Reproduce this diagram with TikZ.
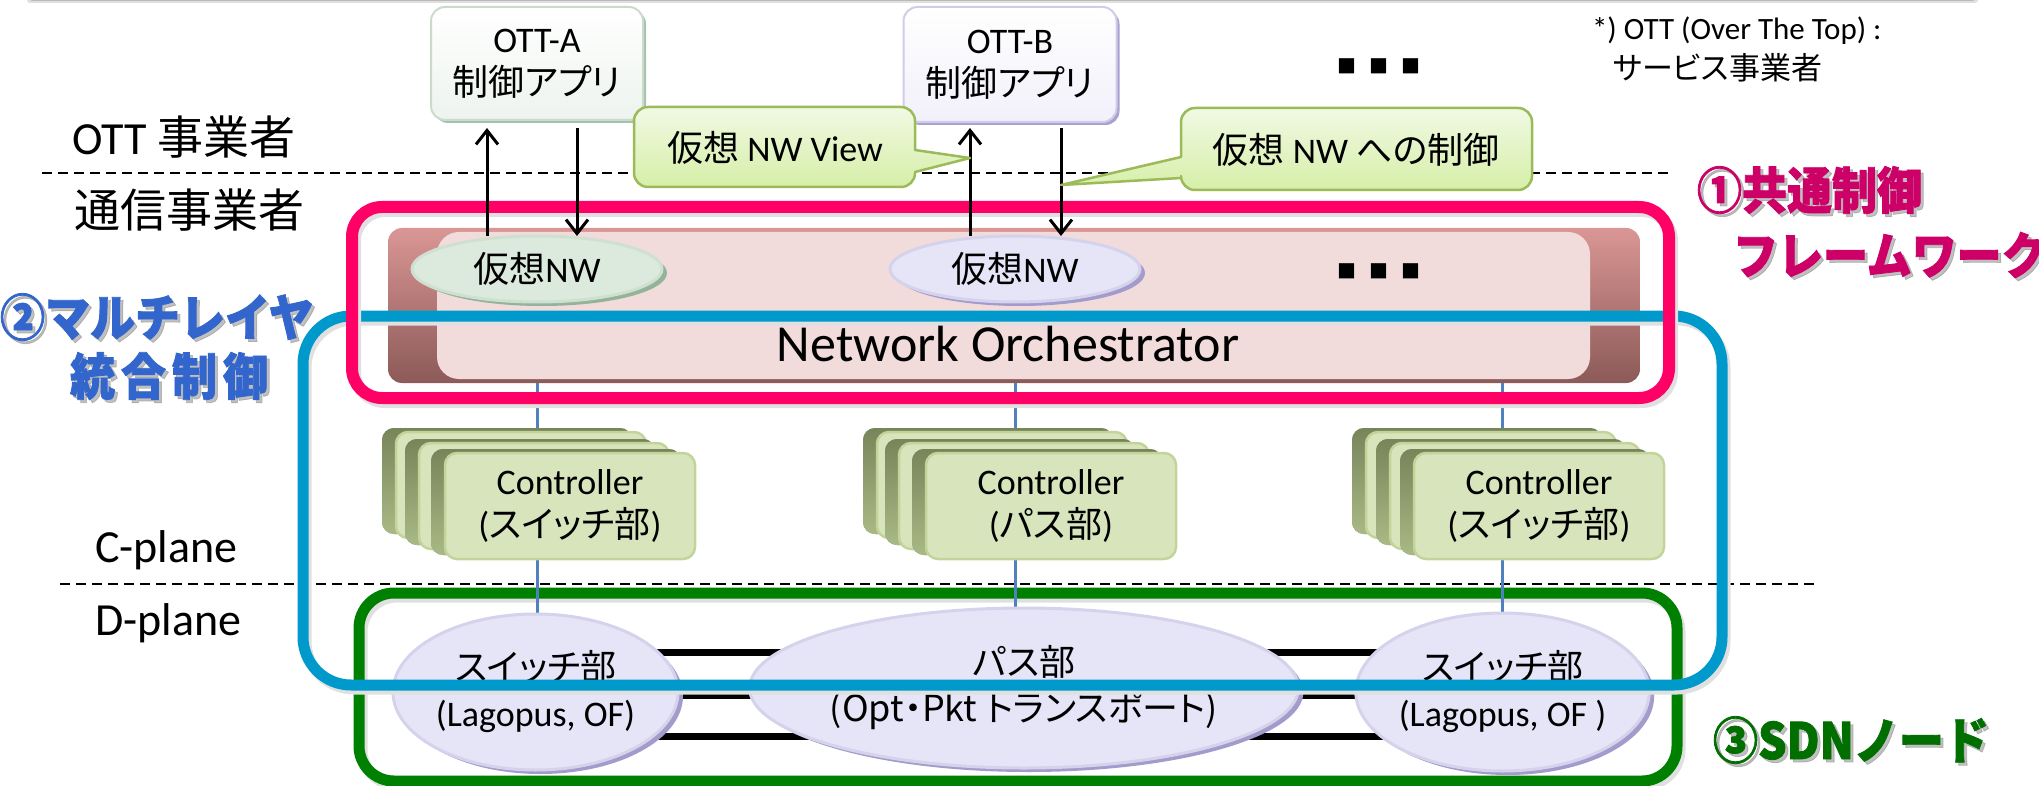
\documentclass[tikz,border=0pt]{standalone}
\usepackage{fontspec}
\setmainfont{Carlito}
\newfontfamily\jp{Noto Sans CJK JP}[RawFeature=+palt]
\newfontfamily\jpb{Noto Sans CJK JP}[FakeStretch=0.9,FakeBold=1.6]
\newfontfamily\jpbw{Noto Sans CJK JP}[FakeStretch=0.9,FakeBold=1.6,LetterSpace=12]
\usetikzlibrary{arrows.meta,shapes.geometric,shadows}
\newcommand\fsz[2]{\fontsize{#1}{#2}\selectfont}

\definecolor{pinkc}{HTML}{FF0066}
\definecolor{bluec}{HTML}{0099CC}
\definecolor{greenc}{HTML}{008000}
\definecolor{linkc}{HTML}{4F81BD}
\definecolor{orchTop}{HTML}{D99694}
\definecolor{orchBot}{HTML}{8C5A58}
\definecolor{orchFace}{HTML}{F2DCDB}
\definecolor{vaFace}{HTML}{DCE9DD}
\definecolor{vaRimL}{HTML}{CFE0D1}
\definecolor{vaRimD}{HTML}{93B498}
\definecolor{lvFace}{HTML}{E6E4F7}
\definecolor{lvRimL}{HTML}{D5D2EC}
\definecolor{lvRimD}{HTML}{A29BCB}
\definecolor{ctlFace}{HTML}{D8E4BC}
\definecolor{ctlEdge}{HTML}{C2D49A}
\definecolor{ctlDarkT}{HTML}{77855A}
\definecolor{ctlDarkB}{HTML}{A8B985}
\definecolor{callT}{HTML}{F1F9E4}
\definecolor{callB}{HTML}{D6EFA8}
\definecolor{callE}{HTML}{9BBB59}
\definecolor{ottAbot}{HTML}{EDF3EE}
\definecolor{ottAedge}{HTML}{CADBCC}
\definecolor{ottArim}{HTML}{A7C2AC}
\definecolor{ottBbot}{HTML}{F2F0FA}
\definecolor{ottBedge}{HTML}{D0CCEA}
\definecolor{ottBrim}{HTML}{A9A2D0}
\definecolor{lblOne}{HTML}{CC0066}
\definecolor{lblTwo}{HTML}{3366CC}
\definecolor{lblThree}{HTML}{006F00}

\pgfdeclarelayer{bglayer}
\pgfdeclarelayer{orchlayer}
\pgfdeclarelayer{linklayer}
\pgfdeclarelayer{framelayer}
\pgfdeclarelayer{toplayer}
\pgfsetlayers{bglayer,orchlayer,linklayer,main,framelayer,toplayer}

\tikzset{
  sepline/.style={line width=2pt, dash pattern=on 10pt off 6pt, black},
  frameshade/.style={black!12},
  pinkframe/.style={draw=pinkc, line width=12pt, rounded corners=30pt},
  blueframe/.style={draw=bluec, line width=11pt, rounded corners=48pt},
  greenframe/.style={draw=greenc, line width=11pt, rounded corners=35pt},
  ottbox/.style={rectangle, rounded corners=14pt, line width=2pt, font=\fsz{36}{43}, align=center},
  ottA/.style={ottbox, minimum width=212pt, minimum height=113pt, top color=white, bottom color=ottAbot, draw=ottAedge,
    drop shadow={shadow xshift=3pt,shadow yshift=-3pt,fill=ottArim,opacity=1}},
  ottB/.style={ottbox, minimum width=213pt, minimum height=115pt, top color=white, bottom color=ottBbot, draw=ottBedge,
    drop shadow={shadow xshift=3pt,shadow yshift=-3pt,fill=ottBrim,opacity=1}},
  orchback/.style={rectangle, rounded corners=14pt, minimum width=1252pt, minimum height=155pt, top color=orchTop, bottom color=orchBot},
  orchface/.style={rectangle, rounded corners=22pt, minimum width=1153pt, minimum height=147pt, fill=orchFace},
  vnw/.style={ellipse, minimum width=250pt, minimum height=66pt, line width=3pt, font=\fsz{36}{43}},
  vnwA/.style={vnw, fill=vaFace, draw=vaRimL, drop shadow={shadow xshift=5pt,shadow yshift=-4pt,fill=vaRimD,opacity=1}},
  vnwB/.style={vnw, fill=lvFace, draw=lvRimL, drop shadow={shadow xshift=5pt,shadow yshift=-4pt,fill=lvRimD,opacity=1}},
  dnode/.style={ellipse, fill=lvFace, draw=lvRimL, line width=3pt,
    drop shadow={shadow xshift=5pt,shadow yshift=-4pt,fill=lvRimD,opacity=1}, font=\fsz{36}{46}, align=center},
  ctlbox/.style={rectangle, rounded corners=12pt, minimum width=250pt, minimum height=106pt, fill=ctlFace, draw=ctlEdge, line width=2.5pt,
    drop shadow={shadow xshift=-14pt,shadow yshift=4pt,top color=ctlDarkT,bottom color=ctlDarkB,opacity=1},
    font=\fsz{36}{43}, align=center},
  clink/.style={draw=linkc, line width=3pt},
  dlink/.style={draw=black, line width=7pt},
  arr/.style={line width=3pt, -{Straight Barb[length=14pt,width=22pt]}},
  callout/.style={top color=callT, bottom color=callB, draw=callE, line width=2.5pt, line join=round},
  lbltxt/.style={font=\fsz{46}{52}, anchor=west},
  bigA/.style={font=\jpb\bfseries\fsz{50}{56}, anchor=west},
  bigW/.style={font=\jpbw\bfseries\fsz{50}{56}, anchor=west},
  bigshade/.style={text=black!45, opacity=0.55},
}

\begin{document}
\begin{tikzpicture}[x=1pt,y=-1pt, every node/.style={inner sep=0pt, outer sep=0pt}]
\useasboundingbox (0,0) rectangle (2039,786);

% ---------- background: page rule, plane separators, SDN node frame
\begin{pgfonlayer}{bglayer}
  \draw[gray!25, line width=6pt, line cap=round] (30,0) -- (1975,0);
  \draw[gray!55, line width=2.5pt, line cap=round] (32,0) -- (1973,0);
  \draw[sepline] (42,173) -- (1673,173);
  \draw[sepline] (60,584) -- (1818,584);
  \draw[frameshade, line width=11pt, rounded corners=35pt] (362,597) rectangle (1680,785);
  \draw[greenframe] (359,593) rectangle (1677,781);
\end{pgfonlayer}

% ---------- network orchestrator
\begin{pgfonlayer}{orchlayer}
  \node[orchback] (orch) at (1014,305.5) {};
  \node[orchface] (orchf) at (1013.5,305.5) {};
  \node[font=\fsz{52}{60}, anchor=base] (orcht) at (1008,361) {Network Orchestrator};
  \node[font=\jp\fsz{19}{19}] (dotsB) at (1379,271) {■\hspace{13pt}■\hspace{13pt}■};
\end{pgfonlayer}

% ---------- OTT applications
\node[ottA] (otta) at (537,63.5) {OTT-A\\{\jp 制御アプリ}};
\node[ottB] (ottb) at (1010,64.5) {OTT-B\\{\jp 制御アプリ}};
\node[font=\jp\fsz{19}{19}] (dotsA) at (1379,66) {■\hspace{13pt}■\hspace{13pt}■};

% ---------- virtual networks
\node[vnwA] (ea) at (537,269) {{\jp 仮想}NW};
\node[vnwB] (eb) at (1015,269) {{\jp 仮想}NW};

% ---------- controllers (stacked)
\node[ctlbox] (ctlL3) at (521,485) {};
\node[ctlbox] (ctlL2) at (544,496) {};
\node[ctlbox] (ctlL) at (570,506) {Controller\\({\jp スイッチ部})};
\node[ctlbox] (ctlM3) at (1002,485) {};
\node[ctlbox] (ctlM2) at (1024,496) {};
\node[ctlbox] (ctlM) at (1051,506) {Controller\\({\jp パス部})};
\node[ctlbox] (ctlR3) at (1491,485) {};
\node[ctlbox] (ctlR2) at (1515,496) {};
\node[ctlbox] (ctlR) at (1539,506) {Controller\\({\jp スイッチ部})};

% ---------- data plane nodes
\node[dnode, minimum width=285pt, minimum height=156pt] (swL) at (535.5,692) {{\jp スイッチ部}\\(Lagopus, OF)};
\node[dnode, minimum width=531pt, minimum height=160pt] (pathN) at (1024,688) {{\jp パス部}\\{\jp (Opt・Pkt トランスポート)}};
\node[dnode, minimum width=283pt, minimum height=158pt] (swR) at (1502.5,692) {{\jp スイッチ部}\\(Lagopus, OF )};

% ---------- control links and data links
\begin{pgfonlayer}{linklayer}
  \draw[clink] (orch.south -| ea.south) -- (swL.north -| ea.south);
  \draw[clink] (orch.south -| eb.south) -- (pathN.north -| eb.south);
  \draw[clink] (orch.south -| swR.north) -- (swR.north);
  \foreach \dy in {40,-3,-44} {
    \draw[dlink] ([yshift=\dy pt]swL.center) -- ([yshift=\dy pt]swL.center -| pathN.center);
    \draw[dlink] ([yshift=\dy pt]swL.center -| pathN.center) -- ([yshift=\dy pt]swL.center -| swR.center);
  }
\end{pgfonlayer}

% ---------- grouping frames
\begin{pgfonlayer}{framelayer}
  \draw[frameshade, line width=11pt, rounded corners=48pt] (306,320) rectangle (1725,689);
  \draw[blueframe] (303,316) rectangle (1722,685);
  \draw[frameshade, line width=12pt, rounded corners=30pt] (355,211) rectangle (1672,402);
  \draw[pinkframe] (352,207) rectangle (1669,398);
\end{pgfonlayer}

% ---------- view / control arrows, callouts, labels
\begin{pgfonlayer}{toplayer}
  \draw[arr] ([xshift=-50pt]ea.north) -- ([xshift=-50pt,yshift=-8pt]otta.south);
  \draw[arr] ([xshift=40pt,yshift=-8pt]otta.south) -- ([xshift=40pt]ea.north);
  \draw[arr] ([xshift=-45pt]eb.north) -- ([xshift=-40pt,yshift=-6pt]ottb.south);
  \draw[arr] ([xshift=51pt,yshift=-6pt]ottb.south) -- ([xshift=46pt]eb.north);

  \draw[callout] (634,147) [rounded corners=14pt] -- (634,107) -- (915,107) [sharp corners] -- (915,150)
        -- (970,158) -- (915,172) [rounded corners=14pt] -- (915,187) -- (634,187) -- cycle;
  \node[font=\fsz{36}{43}] (cview) at (775,148) {{\jp 仮想} NW View};
  \draw[callout] (1350,108) [rounded corners=14pt] -- (1532,108) -- (1532,190) -- (1181,190) [sharp corners] -- (1181,178)
        -- (1061,185) -- (1181,157) [rounded corners=14pt] -- (1181,108) -- cycle;
  \node[font=\fsz{36}{43}] (cctl) at (1356,150) {{\jp 仮想} NW {\jp への制御}};

  \node[lbltxt] (lOTT) at (72,137) {OTT {\jp 事業者}};
  \node[font=\jp\fsz{46}{52}, anchor=west] (lTel) at (74,210) {通信事業者};
  \node[font=\fsz{46}{52}, anchor=base west] (lC) at (95,562) {C-plane};
  \node[font=\fsz{46}{52}, anchor=base west] (lD) at (95,635) {D-plane};

  \node[font=\fsz{31}{36}, anchor=base west] (fn1) at (1592,40) {*) OTT (Over The Top) :};
  \node[font=\jp\fsz{31}{36}, anchor=west] (fn2) at (1613,68) {サービス事業者};

  \node[bigA, bigshade] (oneS) at (1700,193) {①共通制御};
  \node[bigA, text=lblOne] (one) at (1697,190) {①共通制御};
  \node[bigA, bigshade] (oneBS) at (1736,258) {フレームワーク};
  \node[bigA, text=lblOne] (oneB) at (1733,255) {フレームワーク};

  \node[bigA, bigshade] (twoS) at (3,320) {②マルチレイヤ};
  \node[bigA, text=lblTwo] (two) at (0,317) {②マルチレイヤ};
  \node[bigW, bigshade] (twoBS) at (73,379) {統合制御};
  \node[bigW, text=lblTwo] (twoB) at (70,376) {統合制御};

  \node[bigA, bigshade] (threeS) at (1716,743) {③SDNノード};
  \node[bigA, text=lblThree] (three) at (1713,740) {③SDNノード};
\end{pgfonlayer}
\end{tikzpicture}
\end{document}
